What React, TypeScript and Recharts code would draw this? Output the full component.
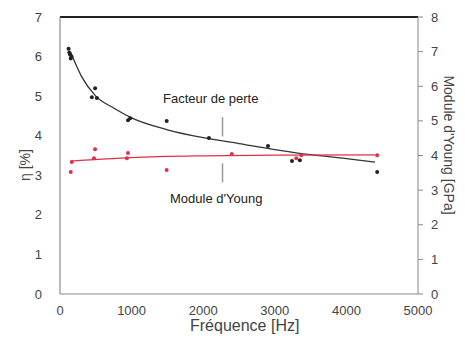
import { ComposedChart, Scatter, Line, XAxis, YAxis, ReferenceLine } from "recharts";

// loss factor η [%] measured points (Hz, %)
const lossFreq = [120, 130, 140, 150, 160, 445, 490, 515, 950, 980, 1490, 2080, 2905, 3240, 3350, 4430];
const lossVal = [6.2, 6.1, 6.05, 5.95, 6.0, 4.97, 5.2, 4.95, 4.39, 4.44, 4.37, 3.94, 3.74, 3.36, 3.38, 3.08];

// Young's modulus [GPa] measured points
const youngFreq = [150, 165, 475, 490, 935, 950, 1490, 2400, 3300, 3370, 4430];
const youngVal = [3.52, 3.81, 3.92, 4.18, 3.92, 4.07, 3.58, 4.04, 3.92, 4.01, 4.01];

// trend curves
const lossTrendFreq = [150, 300, 500, 750, 1000, 1500, 2000, 2500, 3000, 3500, 4000, 4400];
const lossTrendVal = [6.1, 5.5, 5.0, 4.7, 4.45, 4.15, 3.95, 3.8, 3.65, 3.52, 3.42, 3.33];
const youngTrendFreq = [150, 1000, 2000, 3000, 4400];
const youngTrendVal = [3.84, 3.94, 3.99, 4.01, 4.02];

const xTicks = [0, 1000, 2000, 3000, 4000, 5000];
const leftTicks = [0, 1, 2, 3, 4, 5, 6, 7];
const rightTicks = [0, 1, 2, 3, 4, 5, 6, 7, 8];

const zip = (xs: number[], ys: number[], key: string) => xs.map((x, i) => ({ f: x, [key]: ys[i] }));

const lossPts = zip(lossFreq, lossVal, "eta");
const youngPts = zip(youngFreq, youngVal, "E");
const lossTrend = zip(lossTrendFreq, lossTrendVal, "eta");
const youngTrend = zip(youngTrendFreq, youngTrendVal, "E");

const FONT = "'Liberation Sans', Arial, sans-serif";
const tick = { fontSize: 13, fill: "#444", fontFamily: FONT };

const dot = (color: string) => (p: { cx?: number; cy?: number }) =>
  <circle cx={p.cx} cy={p.cy} r={2} fill={color} />;

export default function App() {
  return (
    <div style={{ position: "relative", width: 465, height: 344, margin: -8, background: "#fff", fontFamily: FONT }}>
      <ComposedChart width={465} height={344} margin={{ top: 17, right: 10, bottom: 24, left: 18 }}>
        <XAxis type="number" dataKey="f" domain={[0, 5000]} ticks={xTicks} tick={tick}
          axisLine={{ stroke: "#888" }} tickLine={false} height={26} tickMargin={6} />
        <YAxis yAxisId="left" type="number" domain={[0, 7]} ticks={leftTicks} tick={tick}
          axisLine={{ stroke: "#777" }} tickLine={false} width={42} tickMargin={12} />
        <YAxis yAxisId="right" orientation="right" type="number" domain={[0, 8]} ticks={rightTicks} tick={tick}
          axisLine={{ stroke: "#888" }} tickLine={{ stroke: "#888" }} tickSize={5} width={37} tickMargin={8} />
        <ReferenceLine yAxisId="left" y={7} stroke="#222" strokeWidth={2} />
        <ReferenceLine yAxisId="left" segment={[{ x: 2270, y: 4.47 }, { x: 2270, y: 3.98 }]} stroke="#999" strokeWidth={1.5} />
        <ReferenceLine yAxisId="left" segment={[{ x: 2270, y: 3.3 }, { x: 2270, y: 2.82 }]} stroke="#999" strokeWidth={1.5} />
        <Line yAxisId="left" data={lossTrend} dataKey="eta" type="monotone" stroke="#333" strokeWidth={1.3}
          dot={false} isAnimationActive={false} />
        <Line yAxisId="right" data={youngTrend} dataKey="E" type="monotone" stroke="#e0304a" strokeWidth={1.3}
          dot={false} isAnimationActive={false} />
        <Scatter yAxisId="left" data={lossPts} dataKey="eta" shape={dot("#222")} isAnimationActive={false} />
        <Scatter yAxisId="right" data={youngPts} dataKey="E" shape={dot("#e0304a")} isAnimationActive={false} />
      </ComposedChart>
      <div style={{ position: "absolute", left: 163, top: 91, fontSize: 13, color: "#222" }}>Facteur de perte</div>
      <div style={{ position: "absolute", left: 170, top: 191, fontSize: 13, color: "#222" }}>Module d'Young</div>
      <div style={{ position: "absolute", left: 190, top: 317, fontSize: 16, color: "#444" }}>Fréquence [Hz]</div>
      <div style={{ position: "absolute", left: 25, top: 165, fontSize: 14, color: "#444", whiteSpace: "nowrap",
        transform: "translate(-50%, -50%) rotate(-90deg)" }}>η [%]</div>
      <div style={{ position: "absolute", left: 449, top: 145, fontSize: 14, color: "#444", whiteSpace: "nowrap",
        transform: "translate(-50%, -50%) rotate(90deg)" }}>Module d'Young [GPa]</div>
    </div>
  );
}
